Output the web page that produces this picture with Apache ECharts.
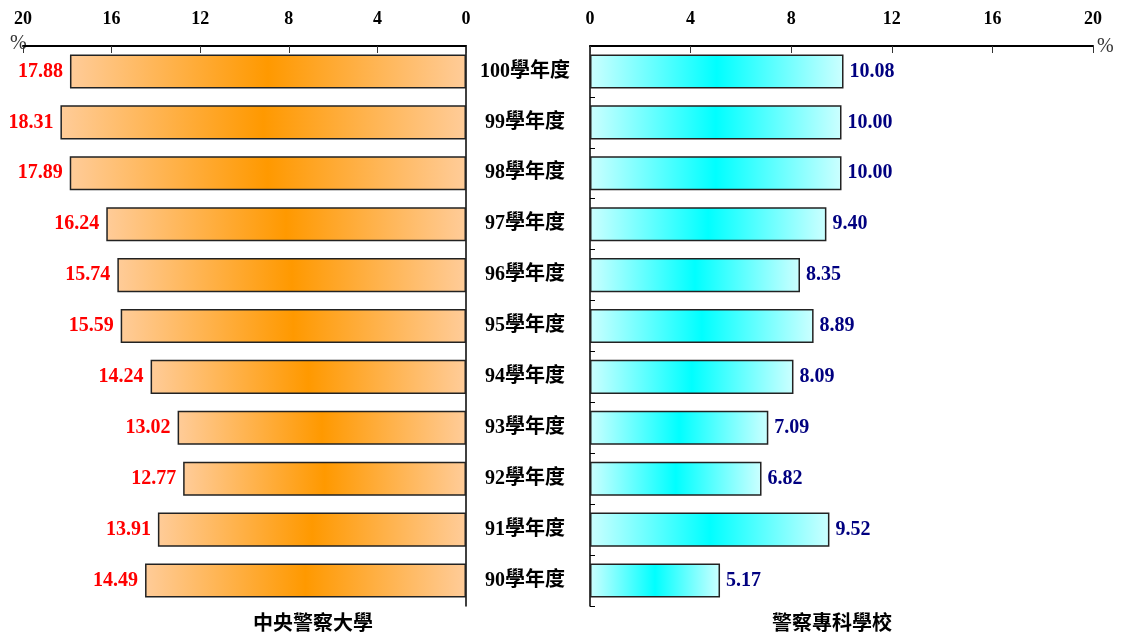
<!DOCTYPE html>
<html>
<head>
<meta charset="utf-8">
<script src="https://cdn.jsdelivr.net/npm/echarts@6/dist/echarts.min.js"></script>
<style>html,body{margin:0;padding:0;background:#fff;}#c{width:1121px;height:637px;}</style>
</head>
<body>
<div id="c"></div>
<script>
var categories = ['100學年度','99學年度','98學年度','97學年度','96學年度','95學年度','94學年度','93學年度','92學年度','91學年度','90學年度'];
var univValues = [17.88, 18.31, 17.89, 16.24, 15.74, 15.59, 14.24, 13.02, 12.77, 13.91, 14.49];
var collegeValues = [10.08, 10.00, 10.00, 9.40, 8.35, 8.89, 8.09, 7.09, 6.82, 9.52, 5.17];
var univName = '中央警察大學';
var collegeName = '警察專科學校';
var axisMin = 0, axisMax = 20, axisStep = 4;

var serif = '"Liberation Serif", "Times New Roman", serif';
var cjk = '"Liberation Serif", "Noto Sans CJK TC", serif';
var chart = echarts.init(document.getElementById('c'));

function grad(edge, mid) {
  return new echarts.graphic.LinearGradient(0, 0, 1, 0, [
    {offset: 0, color: edge}, {offset: 0.5, color: mid}, {offset: 1, color: edge}
  ]);
}

var option = {
  animation: false,
  backgroundColor: '#fff',
  grid: [
    {left: 23, right: 655, top: 46, bottom: 31},
    {left: 590, right: 28, top: 46, bottom: 31}
  ],
  xAxis: [
    {
      gridIndex: 0, type: 'value', position: 'top', inverse: true,
      min: axisMin, max: axisMax, interval: axisStep,
      axisLine: {show: true, lineStyle: {color: '#000', width: 2}},
      axisTick: {show: true, inside: true, length: 7, lineStyle: {color: '#333', width: 1}},
      axisLabel: {margin: 18, color: '#000', fontFamily: serif, fontWeight: 'bold', fontSize: 18},
      splitLine: {show: false}
    },
    {
      gridIndex: 1, type: 'value', position: 'top',
      min: axisMin, max: axisMax, interval: axisStep,
      axisLine: {show: true, lineStyle: {color: '#000', width: 2}},
      axisTick: {show: true, inside: true, length: 7, lineStyle: {color: '#333', width: 1}},
      axisLabel: {margin: 18, color: '#000', fontFamily: serif, fontWeight: 'bold', fontSize: 18},
      splitLine: {show: false}
    }
  ],
  yAxis: [
    {
      gridIndex: 0, type: 'category', data: categories, inverse: true, position: 'right',
      axisLine: {show: true, lineStyle: {color: '#000', width: 1.5}},
      axisTick: {show: false},
      axisLabel: {show: false}
    },
    {
      gridIndex: 1, type: 'category', data: categories, inverse: true, position: 'left',
      axisLine: {show: true, lineStyle: {color: '#000', width: 1.5}},
      axisTick: {show: true, inside: true, length: 5, lineStyle: {color: '#000', width: 1}},
      axisLabel: {show: true, margin: 65, align: 'center', color: '#000', fontFamily: cjk, fontWeight: 'bold', fontSize: 20}
    }
  ],
  series: [
    {
      type: 'bar', xAxisIndex: 0, yAxisIndex: 0, data: univValues, barWidth: '67%',
      itemStyle: {color: grad('#FFCC99', '#FF9900'), borderColor: '#222', borderWidth: 1.5},
      label: {show: true, position: 'left', distance: 7, color: '#FF0000', fontFamily: serif, fontWeight: 'bold', fontSize: 20,
        formatter: function (p) { return p.value.toFixed(2); }}
    },
    {
      type: 'bar', xAxisIndex: 1, yAxisIndex: 1, data: collegeValues, barWidth: '67%',
      itemStyle: {color: grad('#CCFFFF', '#00FFFF'), borderColor: '#222', borderWidth: 1.5},
      label: {show: true, position: 'right', distance: 6, color: '#000080', fontFamily: serif, fontWeight: 'bold', fontSize: 20,
        formatter: function (p) { return p.value.toFixed(2); }}
    }
  ],
  graphic: [
    {type: 'text', x: 10, y: 34, style: {text: '%', fill: '#333', font: '20px ' + serif}},
    {type: 'text', x: 1097, y: 37, style: {text: '%', fill: '#333', font: '20px ' + serif}},
    {type: 'text', x: 313, y: 622, style: {text: univName, fill: '#000', font: 'bold 20px "Noto Sans CJK TC"', align: 'center', verticalAlign: 'middle'}},
    {type: 'text', x: 832, y: 622, style: {text: collegeName, fill: '#000', font: 'bold 20px "Noto Sans CJK TC"', align: 'center', verticalAlign: 'middle'}}
  ]
};
chart.setOption(option);
</script>
</body>
</html>
